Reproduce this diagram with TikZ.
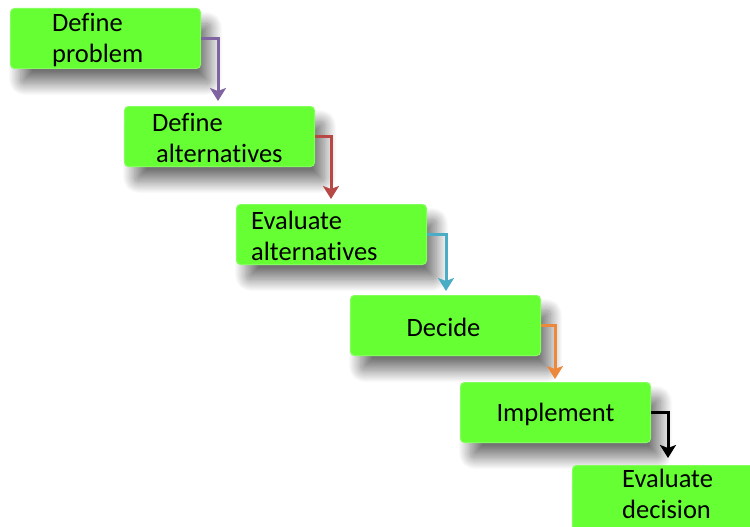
\documentclass[tikz,border=0pt]{standalone}
\usepackage{fontspec}
\setmainfont[Ligatures={NoCommon}]{Carlito}
\usetikzlibrary{arrows.meta,shadows.blur}

\definecolor{boxgreen}{RGB}{102,255,51}
\definecolor{boxedge}{RGB}{130,255,90}
\definecolor{cpurple}{RGB}{128,100,162}
\definecolor{cred}{RGB}{184,72,70}
\definecolor{cteal}{RGB}{75,172,198}
\definecolor{corange}{RGB}{236,135,60}

\tikzset{
  stepbox/.style={draw=boxedge, line width=1pt, fill=boxgreen, rounded corners=4pt,
    minimum width=190pt, minimum height=60pt, anchor=north west, inner sep=0pt,
    blur shadow={shadow xshift=10pt, shadow yshift=-15pt, shadow blur radius=12pt,
      shadow blur steps=30, shadow opacity=55}},
  steptext/.style={font=\fontsize{26.5}{31}\selectfont, align=left, inner sep=0pt},
  link/.style={line width=3pt, -{Stealth[length=13pt,width=16pt,inset=3pt]}},
}

\begin{document}
\begin{tikzpicture}[x=1pt,y=-1pt]
\useasboundingbox (0,0) rectangle (750,527);
\clip (0,0) rectangle (750,527);

% boxes
\node[stepbox] (b1) at (10,8) {};
\node[stepbox] (b2) at (124,106) {};
\node[stepbox] (b3) at (236,204) {};
\node[stepbox] (b4) at (350,295) {};
\node[stepbox] (b5) at (460,382) {};
\node[stepbox, minimum height=66pt] (b6) at (572,465) {};

% labels
\node[steptext, anchor=west] (t1) at ([xshift=42pt,yshift=-2pt]b1.west) {Define\\problem};
\node[steptext, anchor=west] (t2) at ([xshift=28pt,yshift=-1pt]b2.west) {Define\\\hspace{4pt}alternatives};
\node[steptext, anchor=west] (t3) at ([xshift=15pt,yshift=-1pt]b3.west) {Evaluate\\alternatives};
\node[steptext] (t4) at ([xshift=-2pt,yshift=-2pt]b4.center) {Decide};
\node[steptext] (t5) at ([yshift=-2pt]b5.center) {Implement};
\node[steptext, anchor=north west] (t6) at ([xshift=50pt,yshift=-4pt]b6.north west) {Evaluate\\decision};

% connectors
\draw[link, cpurple] (b1.east) -| ([xshift=94pt,yshift=5pt]b2.north west);
\draw[link, cred] (b2.east) -| ([xshift=95pt,yshift=5pt]b3.north west);
\draw[link, cteal] (b3.east) -| ([xshift=96pt,yshift=4pt]b4.north west);
\draw[link, corange] (b4.east) -| ([xshift=95pt,yshift=3pt]b5.north west);
\draw[link, black] (b5.east) -| ([xshift=96pt,yshift=7pt]b6.north west);
\end{tikzpicture}
\end{document}
